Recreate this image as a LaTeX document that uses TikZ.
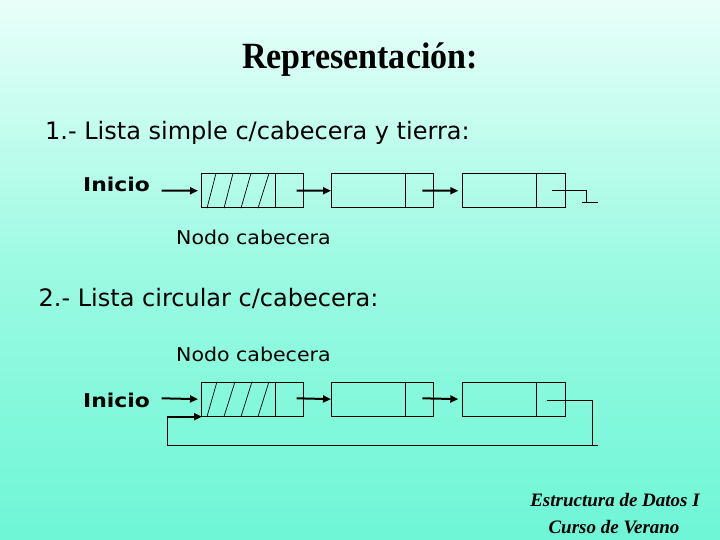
\documentclass[tikz,border=0pt]{standalone}
\usepackage{fontspec}
\setmainfont{Liberation Serif}
\setsansfont{DejaVu Sans}
\usetikzlibrary{arrows.meta}
\definecolor{bgtop}{RGB}{232,255,249}
\definecolor{bgmid}{RGB}{155,250,226}
\definecolor{bgbot}{RGB}{110,246,214}
\tikzset{
  listbox/.style={draw=black, line width=0.9pt, minimum width=102.3pt, minimum height=34pt, inner sep=0pt, anchor=north west},
  ptr/.style={line width=2pt, -{Triangle[length=8pt,width=7pt]}},
  thin line/.style={line width=0.9pt},
  heading/.style={font=\sffamily\fontsize{24}{28}\selectfont, anchor=base west, inner sep=0pt},
  label/.style={font=\sffamily\fontsize{19}{22}\selectfont, anchor=base west, inner sep=0pt},
  inicio/.style={font=\sffamily\bfseries\fontsize{19}{22}\selectfont, anchor=base west, inner sep=0pt},
  footer/.style={font=\bfseries\itshape\fontsize{19}{22}\selectfont, anchor=base, inner sep=0pt}
}
\begin{document}
\begin{tikzpicture}[x=1pt,y=-1pt]
\shade[top color=bgtop, bottom color=bgbot, middle color=bgmid] (0,0) rectangle (720,540);
\useasboundingbox (0,0) rectangle (720,540);

% title
\node[font=\bfseries\fontsize{37}{40}\selectfont, anchor=base, inner sep=0pt] (title) at (360,69) {\scalebox{0.92}[1]{Representación:}};

% section 1
\node[heading] (h1) at (45,140) {1.- Lista simple c/cabecera y tierra:};
\node[inicio] (ini1) at (83,191.7) {\scalebox{1.15}[1]{Inicio}};
\node[label] (nc1) at (176,244) {\scalebox{1.08}[1]{Nodo cabecera}};

\node[listbox] (a1) at (201,173.3) {};
\node[listbox] (a2) at (331,173.3) {};
\node[listbox] (a3) at (462.3,173.3) {};
\foreach \n in {a1,a2,a3}{
  \draw[thin line] ([xshift=74pt]\n.north west) -- ([xshift=74pt]\n.south west);
}
\foreach \b/\t in {6/15,23/32,40/50,57/68}{
  \draw[line width=0.7pt] ([xshift=\b pt]a1.south west) -- ([xshift=\t pt]a1.north west);
}
\coordinate (s1) at (161.7,190.7);
\coordinate (p11) at (296.7,190.7);
\coordinate (p12) at (422.3,190.7);
\coordinate (p13) at (552.3,190.7);
\coordinate (g1) at (586.7,190.7);
\coordinate (g2) at (586.7,202);
\draw[ptr] (s1) -- ([xshift=-3pt]a1.west);
\draw[ptr] (p11) -- (a2.west);
\draw[ptr] (p12) -- ([xshift=-4pt]a3.west);
\draw[thin line] (p13) -- (g1) -- (g2);
\draw[thin line] (581.7,202) -- (598.3,202);

% section 2
\node[heading] (h2) at (38.5,306) {2.- Lista circular c/cabecera:};
\node[label] (nc2) at (176,361.5) {\scalebox{1.08}[1]{Nodo cabecera}};
\node[inicio] (ini2) at (83,407.3) {\scalebox{1.15}[1]{Inicio}};

\node[listbox] (b1) at (201,381.7) {};
\node[listbox] (b2) at (331,381.7) {};
\node[listbox] (b3) at (462.3,381.7) {};
\foreach \n in {b1,b2,b3}{
  \draw[thin line] ([xshift=74pt]\n.north west) -- ([xshift=74pt]\n.south west);
}
\foreach \b/\t in {6/16,23/34,40/51,57/68}{
  \draw[line width=0.7pt] ([xshift=\b pt]b1.south west) -- ([xshift=\t pt]b1.north west);
}
\coordinate (s2) at (161.7,398.3);
\coordinate (q11) at (296.7,398.3);
\coordinate (q12) at (422.3,398.3);
\coordinate (q13) at (546.7,400.7);
\coordinate (r1) at (592.7,400.7);
\coordinate (r2) at (592.7,445);
\coordinate (r3) at (167.3,445);
\coordinate (r4) at (167.3,416.7);
\coordinate (r5) at (202,416.7);
\draw[ptr] (s2) -- ([xshift=-3pt]b1.west);
\draw[ptr] (q11) -- (b2.west);
\draw[ptr] (q12) -- ([xshift=-4pt]b3.west);
\draw[thin line] (q13) -- (r1) -- (r2);
\draw[thin line] (598.3,445) -- (r3) -- (r4);
\draw[ptr] (r4) -- (r5);

% footer
\node[footer] (f1) at (615,506.7) {Estructura de Datos I};
\node[footer] (f2) at (614,533.3) {Curso de Verano};
\end{tikzpicture}
\end{document}
